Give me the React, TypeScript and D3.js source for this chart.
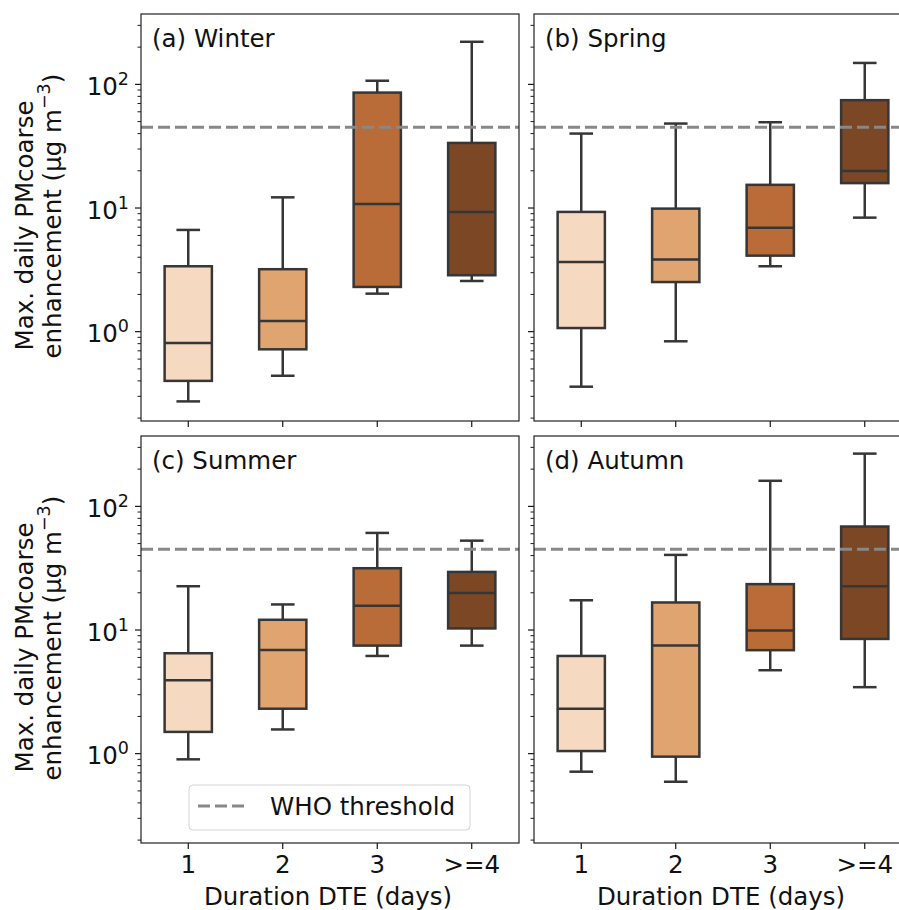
import React from 'react'
import * as d3 from 'd3'

// duration classes on the x axis
const categories = ['1', '2', '3', '>=4']
const panelTitles = ['(a) Winter', '(b) Spring', '(c) Summer', '(d) Autumn']

// each row: [whisker low, q1, median, q3, whisker high]
const winter = [
  [0.273, 0.40, 0.81, 3.38, 6.65],
  [0.44, 0.72, 1.22, 3.2, 12.2],
  [2.03, 2.30, 10.8, 85.8, 107],
  [2.57, 2.86, 9.3, 33.6, 221],
]
const spring = [
  [0.359, 1.07, 3.66, 9.3, 40.0],
  [0.836, 2.52, 3.83, 9.89, 48.2],
  [3.38, 4.12, 6.94, 15.4, 49.4],
  [8.36, 15.9, 19.95, 74.5, 149],
]
const summer = [
  [0.90, 1.50, 3.93, 6.49, 22.6],
  [1.57, 2.31, 6.9, 12.1, 16.1],
  [6.17, 7.48, 15.7, 31.6, 61],
  [7.48, 10.3, 19.9, 29.5, 52.8],
]
const autumn = [
  [0.715, 1.05, 2.31, 6.17, 17.4],
  [0.593, 0.946, 7.48, 16.7, 40.5],
  [4.73, 6.87, 9.89, 23.5, 161],
  [3.45, 8.47, 22.6, 68.7, 267],
]
const seasons = [winter, spring, summer, autumn]

const boxColors = ['#f5d9c1', '#e0a470', '#b96c37', '#7c4724']
const whoThreshold = 45
const yMajorTicks = [1, 10, 100]
const yMajorExp = ['0', '1', '2']

const W = 899
const H = 910
const panelW = 378
const panelH = 407
const lefts = [141, 534]
const tops = [14, 436]
const font = '"DejaVu Sans", sans-serif'
const fs = 24.5
const edge = '#363636'

const y = d3.scaleLog().domain([0.1895, 370.7]).range([panelH, 0])
const x = d3.scaleBand().domain(categories).range([0, panelW]).padding(0)

const minorTicks: number[] = []
for (let n = -1; n <= 2; n++) {
  for (let k = 2; k <= 9; k++) {
    const v = k * Math.pow(10, n)
    if (v > y.domain()[0] && v < y.domain()[1]) minorTicks.push(v)
  }
}

function Panel({ idx }: { idx: number }) {
  const col = idx % 2
  const row = Math.floor(idx / 2)
  const stats = seasons[idx]
  const bw = x.bandwidth()
  const showY = col === 0
  const showX = row === 1
  return (
    <g transform={`translate(${lefts[col]},${tops[row]})`}>
      {stats.map((s, i) => {
        const cx = (x(categories[i]) as number) + bw / 2
        const half = bw * 0.25
        const cap = bw / 8
        return (
          <g key={i} stroke={edge} strokeWidth={2.5}>
            <line x1={cx} x2={cx} y1={y(s[3])} y2={y(s[4])} />
            <line x1={cx} x2={cx} y1={y(s[1])} y2={y(s[0])} />
            <line x1={cx - cap} x2={cx + cap} y1={y(s[4])} y2={y(s[4])} />
            <line x1={cx - cap} x2={cx + cap} y1={y(s[0])} y2={y(s[0])} />
            <rect x={cx - half} width={half * 2} y={y(s[3])} height={y(s[1]) - y(s[3])} fill={boxColors[i]} />
            <line x1={cx - half} x2={cx + half} y1={y(s[2])} y2={y(s[2])} />
          </g>
        )
      })}
      <line x1={0} x2={panelW} y1={y(whoThreshold)} y2={y(whoThreshold)}
        stroke="#888888" strokeWidth={3} strokeDasharray="12,5" />
      <text x={11} y={33} fontFamily={font} fontSize={fs} fill="#111">{panelTitles[idx]}</text>
      {/* y ticks */}
      {minorTicks.map((v) => (
        <line key={v} x1={-3.5} x2={0} y1={y(v)} y2={y(v)} stroke="#000" strokeWidth={0.9} />
      ))}
      {yMajorTicks.map((v, i) => (
        <g key={v}>
          <line x1={-6} x2={0} y1={y(v)} y2={y(v)} stroke="#000" strokeWidth={1.1} />
          {showY && (
            <text x={-12} y={y(v) + 10.5} textAnchor="end" fontFamily={font} fontSize={fs} fill="#111">
              10<tspan dy={-10} fontSize={17.5}>{yMajorExp[i]}</tspan>
            </text>
          )}
        </g>
      ))}
      {/* x ticks */}
      {categories.map((c) => {
        const cx = (x(c) as number) + bw / 2
        return (
          <g key={c}>
            <line x1={cx} x2={cx} y1={panelH} y2={panelH + 6} stroke="#000" strokeWidth={1.1} />
            {showX && (
              <text x={cx} y={panelH + 30} textAnchor="middle" fontFamily={font} fontSize={fs} fill="#111">{c}</text>
            )}
          </g>
        )
      })}
      {showX && (
        <text x={panelW / 2 - 2} y={panelH + 62} textAnchor="middle" fontFamily={font} fontSize={fs} fill="#111">
          Duration DTE (days)
        </text>
      )}
      {showY && (
        <g fontFamily={font} fontSize={fs} fill="#111">
          <text transform={`translate(${33 - lefts[0]},${panelH / 2 + 133}) rotate(-90)`}>Max. daily PMcoarse</text>
          <text transform={`translate(${61 - lefts[0]},${panelH / 2 + 141}) rotate(-90)`}>
            enhancement (µg m<tspan dy={-11} fontSize={17.5}>−3</tspan><tspan dy={11}>)</tspan>
          </text>
        </g>
      )}
      {idx === 2 && (
        <g>
          <rect x={189 - lefts[0]} y={785 - tops[1]} width={281} height={45} rx={4}
            fill="#fff" fillOpacity={0.8} stroke="#d4d4d4" strokeWidth={1} />
          <line x1={198 - lefts[0]} x2={245 - lefts[0]} y1={806 - tops[1]} y2={806 - tops[1]}
            stroke="#888888" strokeWidth={3} strokeDasharray="12,5" />
          <text x={270 - lefts[0]} y={815 - tops[1]} fontFamily={font} fontSize={fs} fill="#111">WHO threshold</text>
        </g>
      )}
      <rect x={0} y={0} width={panelW} height={panelH} fill="none" stroke="#222" strokeWidth={1.2} />
    </g>
  )
}

export default function App() {
  return (
    <svg width={W} height={H} style={{ position: 'absolute', left: 0, top: 0, background: '#fff' }}>
      <rect width={W} height={H} fill="#fff" />
      {[0, 1, 2, 3].map((i) => <Panel key={i} idx={i} />)}
    </svg>
  )
}
